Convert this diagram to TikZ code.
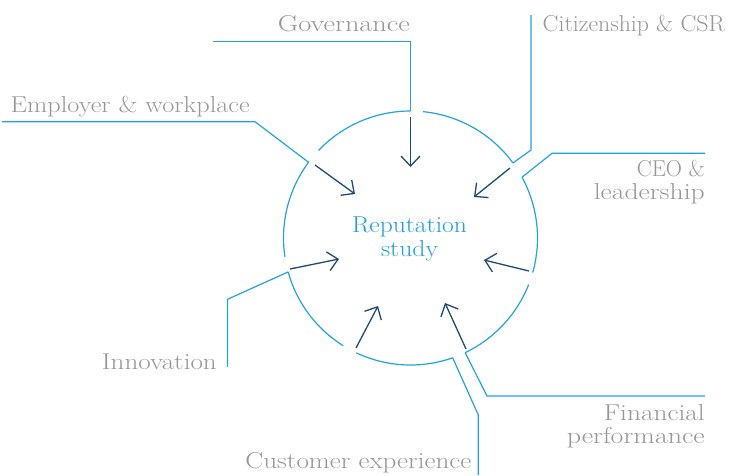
\documentclass[tikz,border=0pt]{standalone}
\usepackage{fontspec}
\usepackage{graphicx}
\usetikzlibrary{arrows.meta,calc}

\definecolor{ringblue}{RGB}{32,164,224}
\definecolor{titleblue}{RGB}{27,160,220}
\definecolor{arrowblue}{RGB}{31,74,115}
\definecolor{labelgray}{RGB}{150,150,150}

% set a label to a given width (in pt), keeping its height
\newcommand{\fitwidth}[2]{\resizebox{#1pt}{\height}{#2}}

\tikzset{
  ring/.style={draw=ringblue, line width=1.2pt},
  leader/.style={draw=ringblue, line width=1.2pt, line join=miter},
  pointer/.style={draw=arrowblue, line width=1.3pt,
    -{Straight Barb[length=10pt,width=19pt]}},
  lbl/.style={text=labelgray, inner sep=0pt, font=\fontsize{23}{25}\selectfont},
  titletext/.style={text=titleblue, inner sep=0pt, font=\fontsize{23}{25}\selectfont},
}

\begin{document}
\begin{tikzpicture}[x=1pt,y=-1pt]
\useasboundingbox (0,0) rectangle (730,475);

% centre of the ring
\coordinate (c) at (410.5,238);
\def\R{127}

% ring segments, each between two gaps
\draw[ring] ($(c)+(-90:\R)$)    arc[start angle=-90,    end angle=-136.4, radius=\R];
\draw[ring] ($(c)+(-143.4:\R)$) arc[start angle=-143.4, end angle=-188.5, radius=\R];
\draw[ring] ($(c)+(-195.5:\R)$) arc[start angle=-195.5, end angle=-238,   radius=\R];
\draw[ring] ($(c)+(-244.7:\R)$) arc[start angle=-244.7, end angle=-289.4, radius=\R];
\draw[ring] ($(c)+(-295.5:\R)$) arc[start angle=-295.5, end angle=-338.5, radius=\R];
\draw[ring] ($(c)+(-344.2:\R)$) arc[start angle=-344.2, end angle=-388.6, radius=\R];
\draw[ring] ($(c)+(-36.2:\R)$)  arc[start angle=-36.2,  end angle=-84.3,  radius=\R];

% where the leader lines meet the ring
\coordinate (govA)  at ($(c)+(-90:\R)$);
\coordinate (empA)  at ($(c)+(-143.4:\R)$);
\coordinate (innA)  at ($(c)+(-195.5:\R)$);
\coordinate (custA) at ($(c)+(-289.4:\R)$);
\coordinate (finA)  at ($(c)+(-295.5:\R)$);
\coordinate (ceoA)  at ($(c)+(-28.6:\R)$);
\coordinate (citA)  at ($(c)+(-36.2:\R)$);

% bends and free ends of the leader lines
\coordinate (govB)  at (410.5,41.5);  \coordinate (govE)  at (213,41.5);
\coordinate (empB)  at (255,121.7);   \coordinate (empE)  at (2,121.7);
\coordinate (innB)  at (227.5,299.3); \coordinate (innE)  at (227.5,367);
\coordinate (custB) at (478.3,415);   \coordinate (custE) at (478.3,475);
\coordinate (finB)  at (487,396);     \coordinate (finE)  at (705,396);
\coordinate (ceoB)  at (552,153.3);   \coordinate (ceoE)  at (705,153.3);
\coordinate (citB)  at (531,150);     \coordinate (citE)  at (531,15);

\draw[leader] (govA) -- (govB) -- (govE);
\draw[leader] (empA) -- (empB) -- (empE);
\draw[leader] (innA) -- (innB) -- (innE);
\draw[leader] (custA) -- (custB) -- (custE);
\draw[leader] (finA) -- (finB) -- (finE);
\draw[leader] (ceoA) -- (ceoB) -- (ceoE);
\draw[leader] (citA) -- (citB) -- (citE);

% inward arrows
\coordinate (govT)  at (410.5,117); \coordinate (govP)  at (410.5,167);
\coordinate (citT)  at (510,168);   \coordinate (citP)  at (474,197);
\coordinate (empT)  at (315,165);   \coordinate (empP)  at (355,194);
\coordinate (innT)  at (290,269);   \coordinate (innP)  at (339,259);
\coordinate (ceoT)  at (529,271);   \coordinate (ceoP)  at (484,260);
\coordinate (custT) at (356,348);   \coordinate (custP) at (378,306);
\coordinate (finT)  at (466,349);   \coordinate (finP)  at (445,303);

\draw[pointer] (govT) -- (govP);
\draw[pointer] (citT) -- (citP);
\draw[pointer] (empT) -- (empP);
\draw[pointer] (innT) -- (innP);
\draw[pointer] (ceoT) -- (ceoP);
\draw[pointer] (custT) -- (custP);
\draw[pointer] (finT) -- (finP);

% labels
\node[lbl, anchor=base east] (gov)  at (410,31.5)  {\fitwidth{132}{Governance}};
\node[lbl, anchor=base west] (cit)  at (542.5,31.5){\fitwidth{182}{Citizenship \& CSR}};
\node[lbl, anchor=base west] (emp)  at (10.5,112)  {\fitwidth{239}{Employer \& workplace}};
\node[lbl, anchor=base east] (ceo1) at (705,176.5) {\fitwidth{68}{CEO \&}};
\node[lbl, anchor=base east] (ceo2) at (705,199.5) {\fitwidth{111}{leadership}};
\node[lbl, anchor=base east] (inn)  at (217,369)   {\fitwidth{115}{Innovation}};
\node[lbl, anchor=base east] (cust) at (471.5,468) {\fitwidth{226}{Customer experience}};
\node[lbl, anchor=base east] (fin1) at (705,420.5) {\fitwidth{101}{Financial}};
\node[lbl, anchor=base east] (fin2) at (705,443.5) {\fitwidth{138}{performance}};

\node[titletext, anchor=base] (rep1) at (409.5,232.5) {\fitwidth{115}{Reputation}};
\node[titletext, anchor=base] (rep2) at (409.5,256)   {\fitwidth{57}{study}};
\end{tikzpicture}
\end{document}
